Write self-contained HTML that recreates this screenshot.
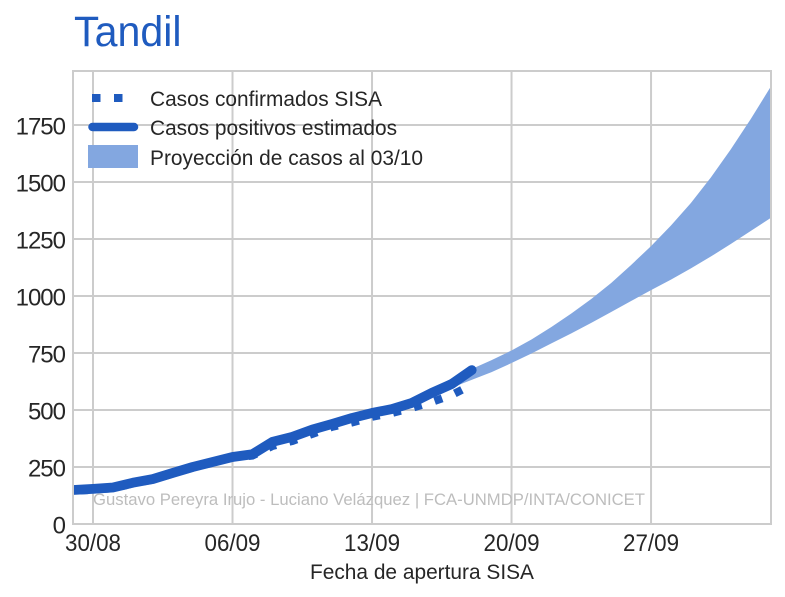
<!DOCTYPE html>
<html lang="es">
<head>
<meta charset="utf-8">
<title>Tandil</title>
<style>
html,body{margin:0;padding:0;background:#fff;}
svg{display:block;font-family:"Liberation Sans",sans-serif;}
</style>
</head>
<body>
<svg id="chart" xmlns="http://www.w3.org/2000/svg" width="785" height="597" viewBox="0 0 785 597">
  <defs><clipPath id="plot-clip"><rect x="73" y="71" width="698" height="453"/></clipPath></defs>
  <text x="74" y="46" font-size="43" fill="#1f5bbf" textLength="107.5" lengthAdjust="spacingAndGlyphs">Tandil</text>
  <g id="grid"></g>
  <g id="marks" clip-path="url(#plot-clip)"></g>
  <text x="93" y="505" font-size="16.5" fill="#bdbdbd" textLength="552" lengthAdjust="spacingAndGlyphs">Gustavo Pereyra Irujo - Luciano Velázquez | FCA-UNMDP/INTA/CONICET</text>
  <rect x="73" y="71" width="698" height="453" fill="none" stroke="#cccccc" stroke-width="2"/>
  <g id="ticks"></g>
  <text x="422" y="579" font-size="21" fill="#262626" text-anchor="middle" textLength="224" lengthAdjust="spacingAndGlyphs">Fecha de apertura SISA</text>
  <g>
    <g>
      <rect x="92" y="94" width="8.5" height="8" fill="#1f5bbf"/>
      <rect x="114" y="94" width="8.5" height="8" fill="#1f5bbf"/>
      <text x="150" y="106" font-size="21" fill="#262626" textLength="232" lengthAdjust="spacingAndGlyphs">Casos confirmados SISA</text>
    </g>
    <g>
      <line x1="92.5" y1="127" x2="134" y2="127" stroke="#1f5bbf" stroke-width="8.5" stroke-linecap="round"/>
      <text x="150" y="135" font-size="21" fill="#262626" textLength="247" lengthAdjust="spacingAndGlyphs">Casos positivos estimados</text>
    </g>
    <g>
      <rect x="88" y="145" width="50" height="23" fill="#83a7e0"/>
      <text x="150" y="165" font-size="21" fill="#262626" textLength="273" lengthAdjust="spacingAndGlyphs">Proyección de casos al 03/10</text>
    </g>
  </g>
</svg>
<script>
// Days are counted from 30/08 (day 0).
const xTickDays = [0, 7, 14, 21, 28];
const xTickLabels = ["30/08", "06/09", "13/09", "20/09", "27/09"];
const yTickValues = [0, 250, 500, 750, 1000, 1250, 1500, 1750];
const seriesDays = [-1, 0, 1, 2, 3, 4, 5, 6, 7, 8, 9, 10, 11, 12, 13, 14, 15, 16, 17, 18, 19];
const confirmedCases = [145, 150, 157, 178, 194, 221, 247, 269, 291, 300, 342, 364, 395, 426, 445, 470, 487, 509, 535, 566, 610];
const estimatedCases = [149, 154, 160, 181, 197, 224, 250, 272, 294, 306, 360, 382, 414, 439, 465, 487, 504, 531, 575, 614, 675];
const projectionDays = [17, 18, 19, 20, 21, 22, 23, 24, 25, 26, 27, 28, 29, 30, 31, 32, 33, 34];
const projectionUpper = [596, 638, 680, 719, 761, 809, 864, 923, 987, 1057, 1136, 1219, 1309, 1408, 1520, 1643, 1776, 1917];
const projectionLower = [570, 598, 632, 666, 706, 748, 792, 836, 882, 930, 978, 1026, 1072, 1121, 1173, 1228, 1285, 1342];

const NS = "http://www.w3.org/2000/svg";
function xScale(day) { return 93 + day * 19.93; }
function yScale(value) { return 524 - value * 0.228; }
function make(tag, parent, attrs) {
  const el = document.createElementNS(NS, tag);
  for (const k in attrs) el.setAttribute(k, attrs[k]);
  parent.appendChild(el);
  return el;
}
function linePath(xs, ys) {
  return xs.map((d, i) => (i ? "L" : "M") + xScale(d).toFixed(2) + " " + yScale(ys[i]).toFixed(2)).join(" ");
}

const grid = document.getElementById("grid");
const ticks = document.getElementById("ticks");
const marks = document.getElementById("marks");

xTickDays.forEach((d, i) => {
  const line = make("line", grid, {x1: xScale(d), x2: xScale(d), y1: 71, y2: 524, stroke: "#cccccc", "stroke-width": 2});
  
  
  const label = make("text", ticks, {x: xScale(d), y: 551, "font-size": 24, fill: "#262626", "text-anchor": "middle", textLength: 56, lengthAdjust: "spacingAndGlyphs"});
  label.textContent = xTickLabels[i];
  
  
});
yTickValues.forEach((v) => {
  const line = make("line", grid, {x1: 73, x2: 771, y1: yScale(v), y2: yScale(v), stroke: "#cccccc", "stroke-width": 2});
  
  
  const label = make("text", ticks, {x: 65, y: yScale(v) + 9.5, "font-size": 24, fill: "#262626", "text-anchor": "end"});
  label.textContent = String(v);
  label.setAttribute('letter-spacing', '-1');
  
  
});

const upperPath = linePath(projectionDays, projectionUpper);
const lowerPoints = projectionDays.map((d, i) => "L" + xScale(d).toFixed(2) + " " + yScale(projectionLower[i]).toFixed(2)).reverse().join(" ");
const band = make("path", marks, {d: upperPath + " " + lowerPoints + " Z", fill: "#83a7e0"});



const confirmed = make("path", marks, {d: linePath(seriesDays, confirmedCases), fill: "none", stroke: "#1f5bbf", "stroke-width": 8, "stroke-dasharray": "8 13.6", "stroke-dashoffset": -7});



const estimated = make("path", marks, {d: linePath(seriesDays, estimatedCases), fill: "none", stroke: "#1f5bbf", "stroke-width": 9.8, "stroke-linecap": "round", "stroke-linejoin": "round"});


</script>
</body>
</html>
